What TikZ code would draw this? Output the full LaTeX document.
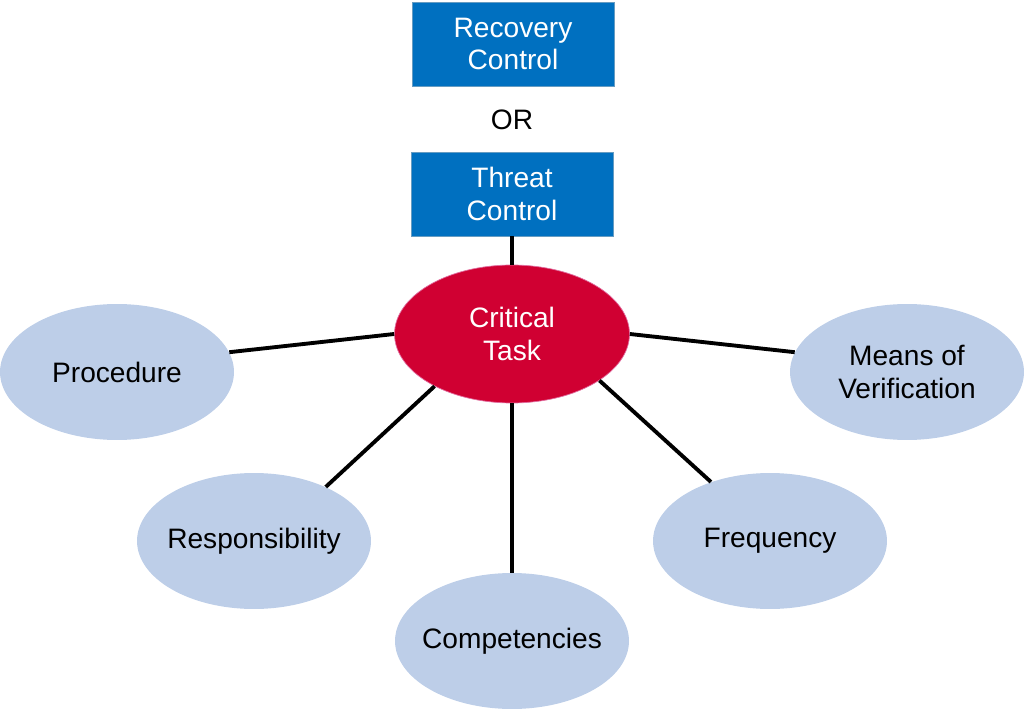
\documentclass[tikz,border=0pt]{standalone}
\usepackage{fontspec}
\setmainfont{Liberation Sans}
\usepackage{tikz}
\usetikzlibrary{shapes.geometric,positioning}
\usepackage{xcolor}
\definecolor{ctrlblue}{RGB}{0,112,192}
\definecolor{taskred}{RGB}{208,0,50}
\definecolor{taskedge}{RGB}{225,110,160}
\definecolor{attrblue}{RGB}{189,206,232}

\begin{document}
\begin{tikzpicture}[x=0.02cm,y=-0.02cm,
    every node/.style={font=\fontsize{16}{18.4}\selectfont,align=center},
    ctrlbox/.style={rectangle,fill=ctrlblue,draw=ctrlblue!80!black!60,text=white,minimum width=4.04cm,minimum height=1.68cm,inner sep=0pt},
    taskoval/.style={ellipse,fill=taskred,draw=taskedge,thin,text=white,minimum width=4.7cm,minimum height=2.76cm,inner sep=0pt},
    attroval/.style={ellipse,fill=attrblue,minimum width=4.68cm,minimum height=2.72cm,inner xsep=-10pt,inner ysep=0pt},
    spoke/.style={line width=2.2pt,black}]
  \useasboundingbox (0,0) rectangle (1024,709);
  % controls on top
  \node[ctrlbox] (recovery) at (513,44) {Recovery\\Control};
  \node (or) at (512,120) {OR};
  \node[ctrlbox] (threat) at (512,194) {Threat\\Control};
  % task in the middle
  \node[taskoval] (task) at (512,334) {Critical\\Task};
  % attributes round it
  \node[attroval] (procedure) at (117,372) {Procedure};
  \node[attroval] (verification) at (907,372) {Means of\\Verification};
  \node[attroval] (responsibility) at (254,541) {Responsibility};
  \node[attroval] (frequency) at (770,541) {Frequency};
  \node[attroval] (competencies) at (512,641) {Competencies};
  % spokes
  \draw[spoke] (threat) -- (task);
  \foreach \a/\n/\b in {180/procedure/10,0/verification/170,214/responsibility/37,-28/frequency/135,270/competencies/90}{
    \draw[spoke] (task.\a) -- (\n.\b);
  }
\end{tikzpicture}
\end{document}
